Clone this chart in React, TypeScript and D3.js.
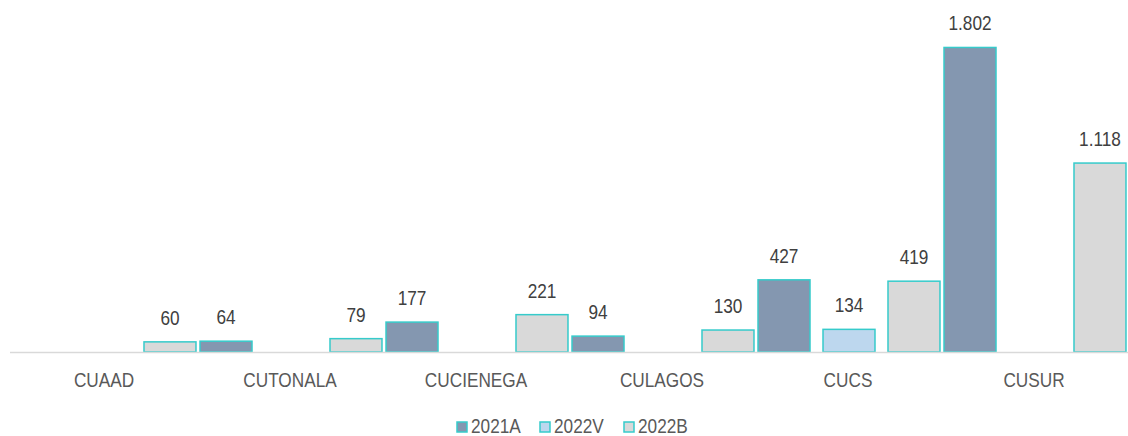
import React from "react";
import * as d3 from "d3";

const categories = ["CUAAD", "CUTONALA", "CUCIENEGA", "CULAGOS", "CUCS", "CUSUR"];
const seriesNames = ["2021A", "2022V", "2022B"];
const values2021A: (number | null)[] = [null, 64, 177, 94, 427, 1802];
const values2022V: (number | null)[] = [null, null, null, null, 134, null];
const values2022B: (number | null)[] = [60, 79, 221, 130, 419, 1118];
const seriesValues = [values2021A, values2022V, values2022B];
const fills = ["#8497B0", "#BDD7EE", "#D9D9D9"];
const strokeColor = "#36CBCB";

const W = 1128;
const H = 436;
const FONT = "'Liberation Sans', Arial, sans-serif";
const SX = 0.82;

function NText(props: {
  x: number;
  y: number;
  size: number;
  fill: string;
  anchor?: "start" | "middle" | "end";
  children: React.ReactNode;
}) {
  return (
    <text
      transform={`translate(${props.x},${props.y}) scale(${SX},1)`}
      fontSize={props.size}
      fill={props.fill}
      textAnchor={props.anchor || "start"}
    >
      {props.children}
    </text>
  );
}

export default function App() {
  const x = d3.scaleBand<string>().domain(categories).range([12, 1128]).padding(0);
  const xs = d3
    .scaleBand<string>()
    .domain(seriesNames)
    .range([0, x.bandwidth()])
    .paddingInner(0.2)
    .paddingOuter(0.031);
  const y = d3.scaleLinear().domain([0, 2000]).range([352, 14]);
  const fmt = (v: number) => d3.format(",")(v).replace(/,/g, ".");

  const legendX = [457, 540, 624];

  return (
    <svg
      width={W}
      height={H}
      style={{ position: "absolute", left: 0, top: 0, background: "#fff" }}
      fontFamily={FONT}
    >
      {categories.map((c, ci) =>
        seriesNames.map((s, si) => {
          const v = seriesValues[si][ci];
          if (v == null) return null;
          const bx = (x(c) as number) + (xs(s) as number);
          const by = y(v);
          return (
            <g key={c + s}>
              <rect
                x={bx}
                y={by}
                width={xs.bandwidth()}
                height={y(0) - by}
                fill={fills[si]}
                stroke={strokeColor}
                strokeWidth={1.5}
              />
              <NText x={bx + xs.bandwidth() / 2} y={by - 17} size={21} fill="#404040" anchor="middle">
                {fmt(v)}
              </NText>
            </g>
          );
        })
      )}
      <line x1={10} x2={1128} y1={y(0) + 0.5} y2={y(0) + 0.5} stroke="#D9D9D9" strokeWidth={1.5} />
      {categories.map((c) => (
        <NText key={c} x={(x(c) as number) + x.bandwidth() / 2 - 1} y={387} size={21} fill="#595959" anchor="middle">
          {c}
        </NText>
      ))}
      {seriesNames.map((s, i) => (
        <g key={s}>
          <rect x={legendX[i]} y={422} width={10} height={10} fill={fills[i]} stroke={strokeColor} strokeWidth={1.5} />
          <NText x={legendX[i] + 14} y={433} size={21} fill="#595959">
            {s}
          </NText>
        </g>
      ))}
    </svg>
  );
}
